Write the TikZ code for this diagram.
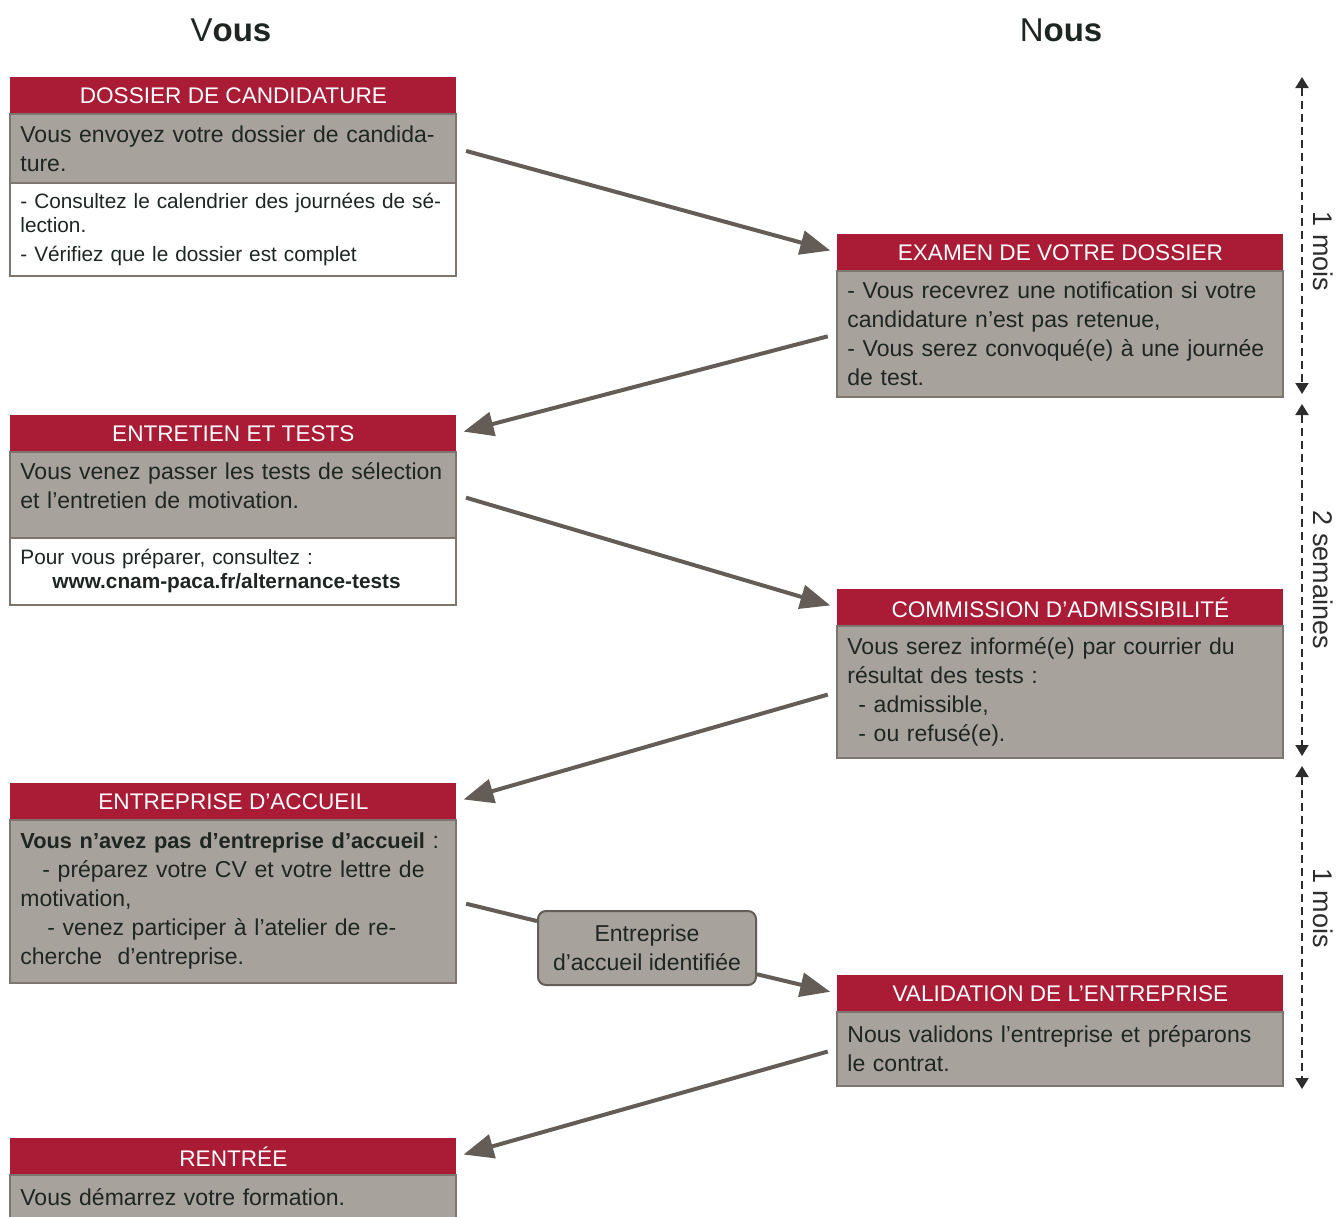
\documentclass[tikz,border=0pt]{standalone}
\usepackage{fontspec}
\setmainfont{Liberation Sans}
\usetikzlibrary{arrows.meta, positioning}
\definecolor{cnamred}{RGB}{170, 27, 54}
\definecolor{cnamgray}{RGB}{168, 162, 157}
\definecolor{cnamframe}{RGB}{125, 117, 110}
\definecolor{flowgray}{RGB}{100, 93, 87}
\definecolor{inkdark}{RGB}{30, 38, 34}
\definecolor{rulerdark}{RGB}{45, 45, 45}
\newcommand{\fsz}[2]{\fontsize{#1}{#2}\selectfont}

\begin{document}
\begin{tikzpicture}[x=0.5pt, y=-0.5pt,
  heading/.style={font=\fsz{16.5}{20}, text=inkdark},
  banner/.style={fill=cnamred, text=white, minimum width=223pt, minimum height=18pt, inner sep=0pt, anchor=north west, font=\fsz{11.3}{13}},
  stepbody/.style={fill=cnamgray, draw=cnamframe, line width=1pt, outer sep=0pt, text width=213pt, inner xsep=5pt, inner ysep=0pt, align=left, text=inkdark, font=\fsz{11.5}{14.5}},
  tipnote/.style={stepbody, fill=white, font=\fsz{10.4}{12}},
  relay/.style={fill=cnamgray, draw=flowgray, line width=1pt, rounded corners=4pt, minimum width=109pt, minimum height=37pt, inner sep=0pt, align=center, text=inkdark, font=\fsz{11.5}{14.5}},
  flow/.style={-{Triangle[length=15pt, width=12pt]}, line width=2pt, draw=flowgray, shorten <=5pt, shorten >=3.5pt},
  durationline/.style={{Triangle[length=5.5pt, width=6.5pt]}-{Triangle[length=5.5pt, width=6.5pt]}, draw=rulerdark, line width=1pt, dash pattern=on 4pt off 2.5pt},
  spanlabel/.style={rotate=-90, anchor=south, inner sep=5pt, text=rulerdark, font=\fsz{13.5}{16}}
]
  \useasboundingbox (0,0) rectangle (1339,1216);

  % Column titles
  \node[heading] (vous) at (231,30) {V\textbf{ous}};
  \node[heading] (nous) at (1061,30) {N\textbf{ous}};

  % Left column
  \node[banner] (dossier-h) at (10,77) {DOSSIER DE CANDIDATURE};
  \node[stepbody, minimum height=34.5pt, below=0pt of dossier-h] (dossier) {\mbox{Vous envoyez votre dossier de candida-}\\ture.};
  \node[tipnote, minimum height=46.5pt, below=0pt of dossier] (dossier-n) {\makebox[\linewidth][s]{- Consultez le calendrier des journées de sé-}\\lection.\\[2.5pt]- Vérifiez que le dossier est complet};

  \node[banner] (entretien-h) at (10,415) {ENTRETIEN ET TESTS};
  \node[stepbody, minimum height=43pt, below=0pt of entretien-h] (entretien) {\mbox{Vous venez passer les tests de sélection}\\et l’entretien de motivation.\par\vspace*{9pt}};
  \node[tipnote, minimum height=33.5pt, below=0pt of entretien] (entretien-n) {Pour vous préparer, consultez :\\\hspace*{16pt}\textbf{www.cnam-paca.fr/alternance-tests}};

  \node[banner] (entreprise-h) at (10,783) {ENTREPRISE D’ACCUEIL};
  \node[stepbody, minimum height=81.5pt, below=0pt of entreprise-h] (entreprise) {\mbox{{\fsz{10.9}{14.5}\textbf{Vous n’avez pas d’entreprise d’accueil}} :}\\\hspace*{11pt}- préparez votre CV et votre lettre de\\motivation,\\\hspace*{13.5pt}- venez participer à l’atelier de re-\\cherche\ \ d’entreprise.};

  \node[banner] (rentree-h) at (10,1138) {RENTRÉE};
  \node[stepbody, minimum height=22pt, below=0pt of rentree-h] (rentree) {Vous démarrez votre formation.};

  % Right column
  \node[banner] (examen-h) at (837,234) {EXAMEN DE VOTRE DOSSIER};
  \node[stepbody, minimum height=63pt, below=0pt of examen-h] (examen) {\mbox{- Vous recevrez une notification si votre}\\candidature n’est pas retenue,\\\mbox{- Vous serez convoqué(e) à une journée}\\de test.};

  \node[banner] (commission-h) at (837,589) {COMMISSION D’ADMISSIBILITÉ};
  \node[stepbody, minimum height=66pt, below=0pt of commission-h] (commission) {Vous serez informé(e) par courrier du\\résultat des tests :\\\hspace*{5.5pt}- admissible,\\\hspace*{5.5pt}- ou refusé(e).};

  \node[banner] (validation-h) at (837,975) {VALIDATION DE L’ENTREPRISE};
  \node[stepbody, minimum height=37pt, below=0pt of validation-h] (validation) {\mbox{Nous validons l’entreprise et préparons}\\le contrat.};

  % Flow between the columns
  \draw[flow] (dossier.east) -- (examen-h.west);
  \draw[flow] (examen.west) -- (entretien-h.east);
  \draw[flow] (entretien.east) -- (commission-h.west);
  \draw[flow] (commission.west) -- (entreprise-h.east);
  \draw[flow] (validation.west) -- (rentree-h.east);

  \node[relay] (identifiee) at (647,948) {Entreprise\\d’accueil identifiée};
  \draw[flow, -, shorten >=0pt] (entreprise.east) -- (identifiee);
  \draw[flow, shorten <=0pt] (identifiee) -- (validation-h.west);

  % Durations
  \foreach \ya/\yb/\where/\len [count=\i] in {77/394/.55/1 mois, 404/756/.5/2 semaines, 766/1089/.44/1 mois} {
    \coordinate (d\i-top) at (1302,\ya);
    \coordinate (d\i-bot) at (1302,\yb);
    \draw[durationline] (d\i-top) -- (d\i-bot) node[spanlabel, pos=\where] (duree-\i) {\len};
  }
\end{tikzpicture}
\end{document}
